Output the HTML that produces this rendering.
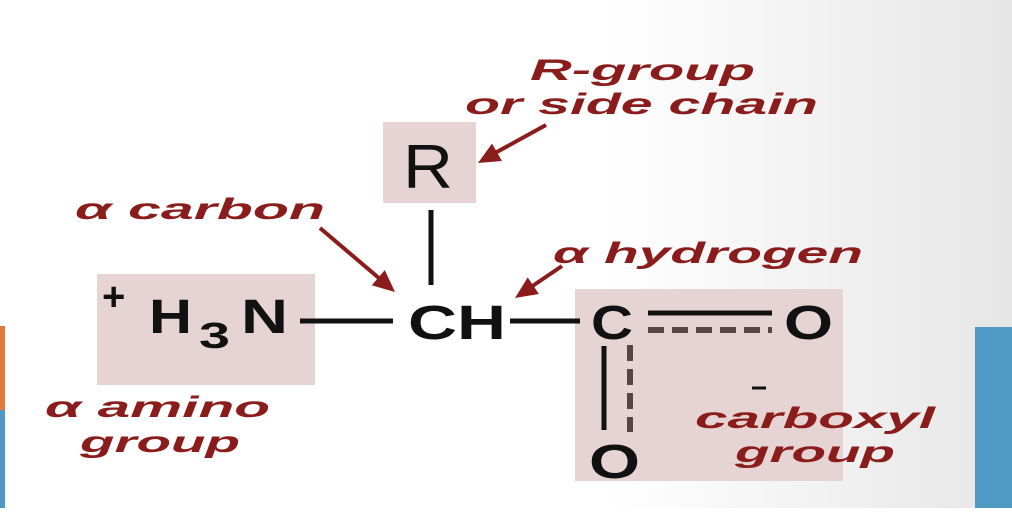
<!DOCTYPE html>
<html><head><style>html,body{margin:0;padding:0;}body{width:1012px;height:508px;overflow:hidden;}</style></head>
<body>
<svg width="1012" height="508" viewBox="0 0 1012 508" xmlns="http://www.w3.org/2000/svg">
<defs><linearGradient id="bg" x1="0" x2="1" y1="0" y2="0"><stop offset="0.6" stop-color="#ffffff"/><stop offset="1" stop-color="#e6e6e6"/></linearGradient></defs>
<rect width="1012" height="508" fill="url(#bg)"/>
<rect x="0" y="326" width="5" height="84" fill="#e07b3c"/>
<rect x="0" y="410" width="5" height="98" fill="#4f9ac4"/>
<rect x="975" y="327" width="37" height="181" fill="#4f9ac4"/>
<rect x="97" y="274" width="218" height="111" fill="#e6d3d3"/>
<rect x="383" y="122" width="93" height="81" fill="#e6d3d3"/>
<rect x="575" y="289" width="268" height="192" fill="#e6d3d3"/>
<g font-family="Liberation Sans, sans-serif" fill="#111">
<text x="403" y="188" font-size="62" textLength="50" lengthAdjust="spacingAndGlyphs">R</text>
<text x="102" y="310" font-size="40" font-weight="bold">+</text>
<text x="149" y="333" font-size="48" font-weight="bold" textLength="43" lengthAdjust="spacingAndGlyphs">H</text>
<text x="199" y="348" font-size="36" font-weight="bold" textLength="31" lengthAdjust="spacingAndGlyphs">3</text>
<text x="241" y="333" font-size="48" font-weight="bold" textLength="47" lengthAdjust="spacingAndGlyphs">N</text>
<text x="408" y="339" font-size="48" font-weight="bold" textLength="98" lengthAdjust="spacingAndGlyphs">CH</text>
<text x="591" y="339" font-size="48" font-weight="bold" textLength="42" lengthAdjust="spacingAndGlyphs">C</text>
<text x="784" y="339" font-size="48" font-weight="bold" textLength="49" lengthAdjust="spacingAndGlyphs">O</text>
<text x="589" y="478" font-size="48" font-weight="bold" textLength="51" lengthAdjust="spacingAndGlyphs">O</text>
</g>
<g stroke="#111" stroke-width="5">
<line x1="300" y1="321" x2="393" y2="321"/>
<line x1="510" y1="321" x2="580" y2="321"/>
<line x1="431" y1="210" x2="431" y2="285"/>
<line x1="648" y1="313" x2="772" y2="313"/>
<line x1="604" y1="346" x2="604" y2="430"/>
<line x1="752" y1="388" x2="766" y2="388" stroke-width="3"/>
</g>
<g stroke="#5a4545" stroke-width="6" stroke-dasharray="16,8">
<line x1="648" y1="330" x2="772" y2="330"/>
<line x1="630" y1="345" x2="630" y2="432"/>
</g>
<g stroke="#8b1c1c" stroke-width="4" fill="none">
<line x1="546" y1="125" x2="495" y2="153"/>
<line x1="320" y1="228" x2="380" y2="279"/>
<line x1="562" y1="266" x2="531" y2="287"/>
</g>
<g fill="#8b1c1c">
<polygon points="478,163 502,161 492,143.6"/>
<polygon points="395,292 371.8,285.3 384.8,270.1"/>
<polygon points="515,298 538.9,294 527.7,277.4"/>
</g>
<g font-family="Liberation Sans, sans-serif" font-weight="bold" font-style="italic" fill="#8b1c1c" font-size="30">
<text x="530" y="80" textLength="225" lengthAdjust="spacingAndGlyphs">R-group</text>
<text x="465" y="114" textLength="353" lengthAdjust="spacingAndGlyphs">or side chain</text>
<text x="75" y="219" textLength="250" lengthAdjust="spacingAndGlyphs">α carbon</text>
<text x="553" y="263" textLength="310" lengthAdjust="spacingAndGlyphs">α hydrogen</text>
<text x="45" y="417" textLength="225" lengthAdjust="spacingAndGlyphs">α amino</text>
<text x="80" y="452" textLength="160" lengthAdjust="spacingAndGlyphs">group</text>
<text x="695" y="428" textLength="240" lengthAdjust="spacingAndGlyphs">carboxyl</text>
<text x="735" y="462" textLength="160" lengthAdjust="spacingAndGlyphs">group</text>
</g>
</svg>
</body></html>
